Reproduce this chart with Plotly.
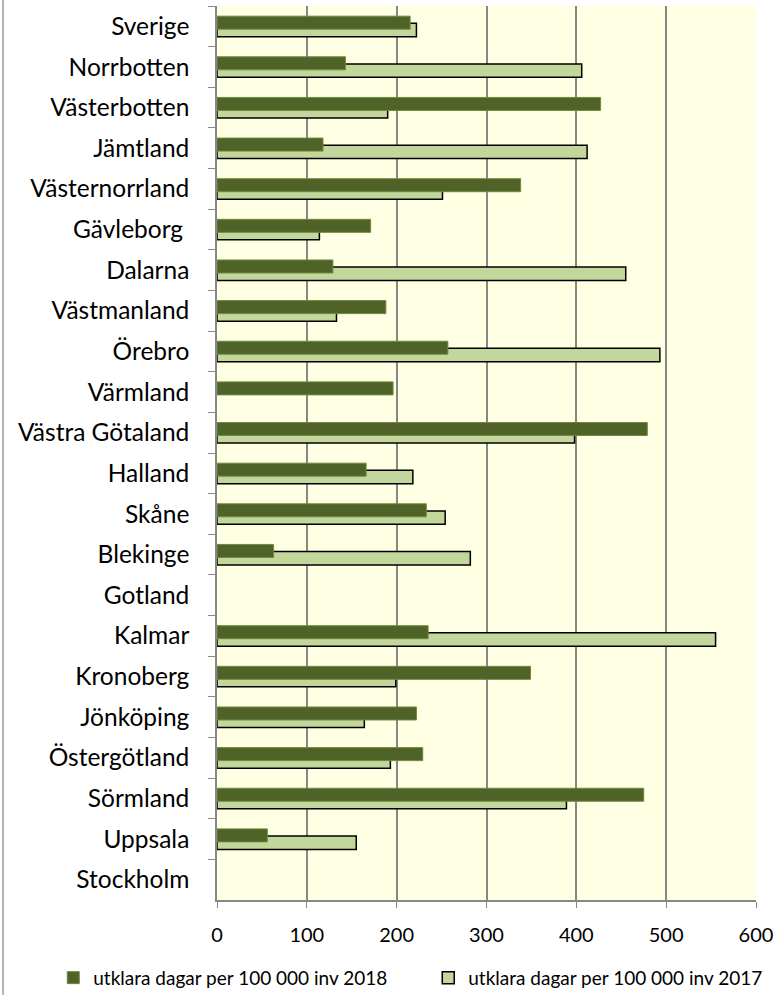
import plotly.graph_objects as go

categories = ["Sverige", "Norrbotten", "Västerbotten", "Jämtland", "Västernorrland",
              "Gävleborg\u00a0", "Dalarna", "Västmanland", "Örebro", "Värmland",
              "Västra Götaland", "Halland", "Skåne", "Blekinge", "Gotland", "Kalmar",
              "Kronoberg", "Jönköping", "Östergötland", "Sörmland", "Uppsala", "Stockholm"]
v2018 = [215, 143, 427, 118, 338, 171, 129, 188, 257, 196, 479, 166, 233, 63, None,
         235, 349, 222, 229, 475, 56, None]
v2017 = [222, 406, 190, 412, 251, 114, 455, 133, 493, None, 398, 218, 254, 282, None,
         555, 199, 164, 193, 389, 155, None]
name2018 = "utklara dagar per 100 000 inv 2018"
name2017 = "utklara dagar per 100 000 inv 2017"
x_ticks = [0, 100, 200, 300, 400, 500, 600]

FONT = "Lato, 'Open Sans', sans-serif"

fig = go.Figure()
fig.add_trace(go.Bar(
    y=categories, x=v2017, orientation="h", name=name2017,
    marker=dict(color="#C3D69B", line=dict(color="#000000", width=1.5)),
    width=0.33, offset=-0.075, legendrank=2,
))
fig.add_trace(go.Bar(
    y=categories, x=v2018, orientation="h", name=name2018,
    marker=dict(color="#4F6228", line=dict(color="#6F8A3C", width=1)),
    width=0.32, offset=-0.25, legendrank=1,
))

fig.update_layout(
    width=779, height=995,
    margin=dict(l=217, r=23, t=6, b=95, autoexpand=False),
    barmode="overlay",
    paper_bgcolor="white",
    plot_bgcolor="#FFFFE3",
    font=dict(family=FONT, color="#000000"),
    showlegend=True,
    legend=dict(
        orientation="h", x=-0.3038, xanchor="left", y=-0.087, yanchor="middle",
        font=dict(size=19, family=FONT), entrywidth=330, entrywidthmode="pixels",
        itemwidth=30, bgcolor="rgba(0,0,0,0)",
    ),
    xaxis=dict(
        range=[0, 600], tickvals=x_ticks, showgrid=True, gridcolor="#878787",
        gridwidth=1.5, zeroline=False, showline=True, linecolor="#878787",
        linewidth=1.5, ticks="outside", ticklen=6, tickcolor="#878787",
        tickfont=dict(size=20, family=FONT), ticklabelstandoff=10,
        fixedrange=True,
    ),
    yaxis=dict(
        type="category", autorange="reversed", showgrid=False, zeroline=False,
        showline=True, linecolor="#878787", linewidth=1.5, ticks="outside",
        ticklen=7, tickcolor="#878787", tickson="boundaries",
        tickfont=dict(size=24.5, family=FONT), ticklabelstandoff=21,
    ),
    shapes=[dict(type="line", xref="paper", yref="paper",
                 x0=-(217 - 3) / 539, x1=-(217 - 3) / 539, y0=-0.2, y1=1.01,
                 line=dict(color="#9A9A9A", width=1.5))],
)

fig.write_html("out.html", config={"displayModeBar": False},
               post_script="document.body.style.margin='0px';")
